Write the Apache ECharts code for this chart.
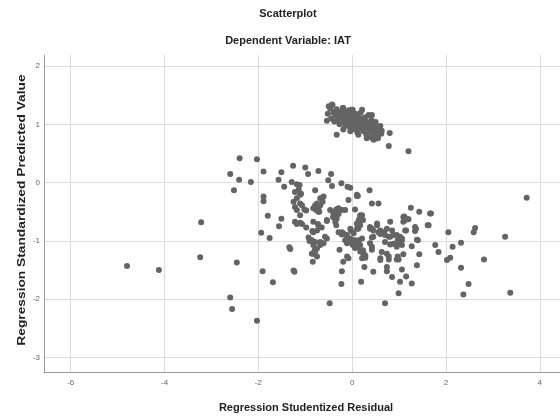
<!DOCTYPE html>
<html><head><meta charset="utf-8">
<script src="https://cdn.jsdelivr.net/npm/echarts@6/dist/echarts.min.js"></script>
<style>html,body{margin:0;padding:0;background:#fff}#c{width:560px;height:417px}</style>
</head><body><div id="c"></div>
<script>
const titleText = 'Scatterplot';
const subtitleText = 'Dependent Variable: IAT';
const xAxisTitle = 'Regression Studentized Residual';
const yAxisTitle = 'Regression Standardized Predicted Value';
const xRange = [-6.57, 4.43];
const yRange = [-3.25, 2.19];

// upper cluster of points (residual, predicted)
const upperCluster = [
[-0.52,1.18],[-0.47,1.27],[-0.45,1.10],[-0.42,1.33],[-0.40,1.20],[-0.38,1.05],[-0.35,1.15],[-0.33,1.26],[-0.31,1.08],[-0.29,1.19],
[-0.27,1.00],[-0.25,1.12],[-0.22,1.22],[-0.20,1.28],[-0.19,1.05],[-0.17,1.16],[-0.15,0.97],[-0.14,1.10],[-0.12,1.20],[-0.10,1.02],
[-0.09,1.13],[-0.07,1.24],[-0.05,0.95],[-0.04,1.07],[-0.02,1.16],[0.00,1.00],[0.01,1.25],[0.02,1.10],[0.04,0.92],[0.05,1.04],
[0.07,1.18],[0.08,0.98],[0.10,1.08],[0.11,0.86],[0.12,1.14],[0.14,1.00],[0.15,0.92],[0.17,1.06],[0.18,1.20],[0.20,0.96],
[0.21,1.25],[0.22,1.10],[0.24,0.88],[0.25,1.02],[0.27,0.94],[0.28,1.12],[0.30,0.82],[0.31,1.04],[0.33,0.96],[0.35,1.16],
[0.36,0.88],[0.38,1.00],[0.40,0.78],[0.41,1.08],[0.42,0.92],[0.44,0.84],[0.45,1.00],[0.47,0.74],[0.48,0.90],[0.50,1.04],
[0.52,0.82],[0.53,0.95],[0.55,0.76],[0.57,0.88],[0.60,0.97],[0.62,0.84],[0.63,0.89],[-0.54,1.06],[-0.33,0.82],[0.80,0.85],
[0.78,0.63],[1.20,0.54],[-0.50,1.31],[-0.43,1.34],[-0.36,1.22],[-0.19,1.28],[-0.01,1.25],[0.42,1.16],[0.31,0.76],[0.13,0.82],
[-0.04,0.88],[-0.19,0.91],[0.53,0.79],[0.45,0.74]
];

// lower main cloud of points (residual, predicted)
const mainCloud = [
[-4.80,-1.43],[-4.12,-1.50],[-3.22,-0.68],[-3.24,-1.28],[-2.46,-1.37],[-2.60,-1.97],[-2.56,-2.17],[-2.03,-2.37],
[-2.52,-0.13],[-2.16,0.01],[-2.41,0.05],[-2.60,0.15],[-2.40,0.42],[-2.03,0.40],[-1.89,0.19],[-1.89,-0.24],[-1.89,-0.32],[-1.80,-0.57],
[-1.94,-0.86],[-1.76,-0.95],[-1.51,-0.62],[-1.56,-0.75],[-1.34,-1.11],[-1.32,-1.14],[-1.25,-1.51],[-1.23,-1.53],[-1.91,-1.52],[-1.69,-1.71],
[-1.26,0.29],[-1.00,0.26],[-0.94,0.15],[-1.51,0.18],[-1.57,0.05],[-1.45,-0.07],[-1.29,0.01],[-1.12,-0.04],[-0.72,0.20],[-0.45,0.15],
[-0.51,0.04],[-0.43,-0.06],[-0.23,-0.01],[-0.04,-0.09],[0.37,-0.13],
[-1.22,-0.16],[-1.18,-0.27],[-1.11,-0.21],[-1.25,-0.33],[-1.22,-0.42],[-1.07,-0.39],[-0.98,-0.48],[-1.18,-0.47],[-0.79,-0.13],[-0.68,-0.27],
[-0.61,-0.24],[-0.75,-0.36],[-0.83,-0.44],[-0.72,-0.50],[-0.79,-0.39],[-1.11,-0.56],[-1.22,-0.67],[-1.18,-0.71],[-0.98,-0.77],[-1.11,-0.69],
[-0.73,-0.71],[-0.54,-0.66],[-0.40,-0.52],[-0.34,-0.46],[-0.29,-0.54],[-0.15,-0.47],[-0.36,-0.62],[-0.75,-0.82],[-0.65,-0.77],[-0.83,-0.85],
[-0.54,-0.96],[-0.91,-1.00],[-0.79,-1.02],[-0.75,-1.13],[-0.83,-1.22],
[-0.22,-0.85],[-0.11,-0.90],[-0.03,-0.82],[0.06,-0.99],[-0.27,-1.15],[-0.08,-1.30],[0.21,-0.96],[0.23,-1.16],[0.17,-0.59],[0.21,-0.64],
[0.38,-0.79],[0.45,-0.93],[0.42,-1.15],[0.56,-0.85],[0.42,-0.36],[0.56,-0.36],[0.10,-0.23],[-0.08,-0.30],[0.24,-1.26],[0.26,-1.45],
[-0.22,-1.52],[0.45,-1.53],[0.60,-1.30],[-0.48,-2.07],[0.70,-2.07],[-0.23,-1.74],[0.19,-1.70],
[0.74,-1.22],[0.74,-1.45],[0.74,-1.52],[0.78,-1.32],[0.85,-1.62],[0.99,-1.32],[1.06,-1.49],[1.09,-1.23],[1.06,-1.07],[1.15,-1.61],
[1.02,-1.70],[0.99,-1.90],[1.27,-1.73],[1.38,-1.42],[1.43,-1.23],[1.27,-1.09],[1.77,-1.07],[1.84,-1.19],[2.02,-1.33],[2.09,-1.29],
[2.14,-1.10],[2.32,-1.46],[2.32,-1.03],[2.48,-1.74],[2.37,-1.92],[2.81,-1.32],[3.26,-0.93],[3.37,-1.89],[3.72,-0.26],[2.59,-0.85],
[2.62,-0.78],[2.05,-0.85],[1.63,-0.73],[1.68,-0.53],[1.43,-0.50],[1.25,-0.43],[1.11,-0.58],[1.13,-0.64],[1.20,-0.63],[1.34,-0.76],
[1.34,-0.83],[1.38,-0.98],
[0.06,-0.46],[0.21,-0.56],[0.14,-0.64],[0.53,-0.70],[0.42,-0.79],[0.81,-0.67],[0.67,-0.86],[0.78,-0.93],[0.88,-1.05],[1.06,-0.96],
[1.02,-1.05],[0.42,-0.94],[0.24,-1.21],[0.28,-1.29],[0.03,-0.87],[-0.11,-1.04],[-0.19,-0.87],[0.10,-0.79],[0.14,-0.99],[0.60,-0.88],
[0.88,-0.90],[1.15,-0.82],[-0.10,-0.07],[0.10,-0.21],
[0.12,-0.23],[-0.65,-0.27],[-0.63,-0.33],[-0.68,-0.39],[-0.72,-0.44],[-0.77,-0.47],[-0.70,-0.50],[-0.47,-0.47],[-0.40,-0.50],[-0.36,-0.56],
[-0.41,-0.59],[-0.33,-0.62],[-0.29,-0.44],[-0.22,-0.47],[-0.54,-0.64],[-0.72,-0.73],[-0.36,-0.67],[-0.34,-0.73],[0.17,-0.56],[0.23,-0.64],
[0.17,-0.73],[0.13,-0.79],[0.10,-0.70],[0.38,-0.76],[0.45,-0.82],[0.53,-0.73],[0.60,-0.82],[0.68,-0.85],[0.74,-0.79],[0.85,-0.82],
[0.70,-0.90],[0.81,-0.93],[0.97,-0.99],[0.92,-1.05],[0.81,-1.06],[0.70,-1.02],[-0.29,-0.85],[-0.22,-0.89],[-0.11,-0.93],[-0.04,-0.96],
[-0.15,-0.99],[-0.06,-1.02],[0.03,-0.99],[0.01,-1.07],[0.10,-1.04],[0.17,-1.07],[0.06,-1.12],[0.17,-1.18],[0.28,-1.25],[0.21,-1.30],
[-0.04,-0.79],[-0.19,-1.36],[-0.86,-0.99],[-0.83,-1.07],[-0.79,-1.19],[-0.75,-1.27],[-0.84,-1.36],[-0.58,-0.93],[-0.61,-1.04],[-0.68,-1.07],
[-0.11,-1.27],[0.38,-1.04],[0.42,-1.10],[0.63,-1.19],[0.60,-1.33],[0.78,-1.27],[0.95,-1.10],[0.97,-1.27],
[1.09,-0.59],[1.17,-0.62],[1.09,-0.67],[1.36,-0.79],[1.13,-0.82],[0.95,-0.90],[1.02,-0.93],[1.06,-0.99],[0.99,-1.04],[1.40,-0.99],
[0.95,-1.32],[1.61,-0.73],[1.66,-0.53],
[-1.18,-0.03],[-1.14,-0.12],[-1.09,-0.19],[-1.11,-0.36],[-1.02,-0.46],[-1.07,-0.71],[-0.83,-0.67],[-0.85,-0.83],[-0.93,-0.94],
[-0.86,-1.22],[-0.80,-1.16],[-0.68,-1.02],[0.13,-1.10]
];

const chart = echarts.init(document.getElementById('c'), null, {renderer: 'canvas'});
const lblStyle = {color: '#666', fontSize: 8, fontFamily: 'Liberation Sans, Arial, sans-serif'};
chart.setOption({
  animation: false,
  backgroundColor: '#fff',
  grid: {left: 44, right: 0, top: 55, bottom: 45, containLabel: false},
  xAxis: {
    type: 'value', min: xRange[0], max: xRange[1], splitNumber: 5,
    axisLine: {show: true, onZero: false, lineStyle: {color: '#9a9a9a', width: 1}},
    axisTick: {show: false},
    axisLabel: Object.assign({showMinLabel: false, showMaxLabel: false, margin: 7, formatter: v => String(v)}, lblStyle),
    splitLine: {show: true, showMinLine: false, showMaxLine: false, lineStyle: {color: '#dcdcdc', width: 1}}
  },
  yAxis: {
    type: 'value', min: yRange[0], max: yRange[1], splitNumber: 5,
    axisLine: {show: true, onZero: false, lineStyle: {color: '#9a9a9a', width: 1}},
    axisTick: {show: false},
    axisLabel: Object.assign({showMinLabel: false, showMaxLabel: false, margin: 4, formatter: v => String(v)}, lblStyle),
    splitLine: {show: true, showMinLine: false, showMaxLine: false, lineStyle: {color: '#dcdcdc', width: 1}}
  },
  graphic: [
    {type: 'text', x: 288, y: 14, style: {text: titleText, font: 'bold 11px "Liberation Sans", Arial, sans-serif', fill: '#222', align: 'center', verticalAlign: 'middle', textAlign: 'center', textVerticalAlign: 'middle'}},
    {type: 'text', x: 288, y: 41, style: {text: subtitleText, font: 'bold 11px "Liberation Sans", Arial, sans-serif', fill: '#222', align: 'center', verticalAlign: 'middle', textAlign: 'center', textVerticalAlign: 'middle'}},
    {type: 'text', x: 306, y: 408, style: {text: xAxisTitle, font: 'bold 11px "Liberation Sans", Arial, sans-serif', fill: '#222', align: 'center', verticalAlign: 'middle', textAlign: 'center', textVerticalAlign: 'middle'}},
    {type: 'text', x: 22, y: 210, rotation: Math.PI / 2, scaleX: 1.25, scaleY: 1, style: {text: yAxisTitle, font: 'bold 11px "Liberation Sans", Arial, sans-serif', fill: '#222', align: 'center', verticalAlign: 'middle', textAlign: 'center', textVerticalAlign: 'middle'}}
  ],
  series: [
    {type: 'scatter', data: mainCloud, symbol: 'circle', symbolSize: 6, itemStyle: {color: '#646464', opacity: 1}},
    {type: 'scatter', data: upperCluster, symbol: 'circle', symbolSize: 6, itemStyle: {color: '#646464', opacity: 1}}
  ]
});
</script></body></html>
